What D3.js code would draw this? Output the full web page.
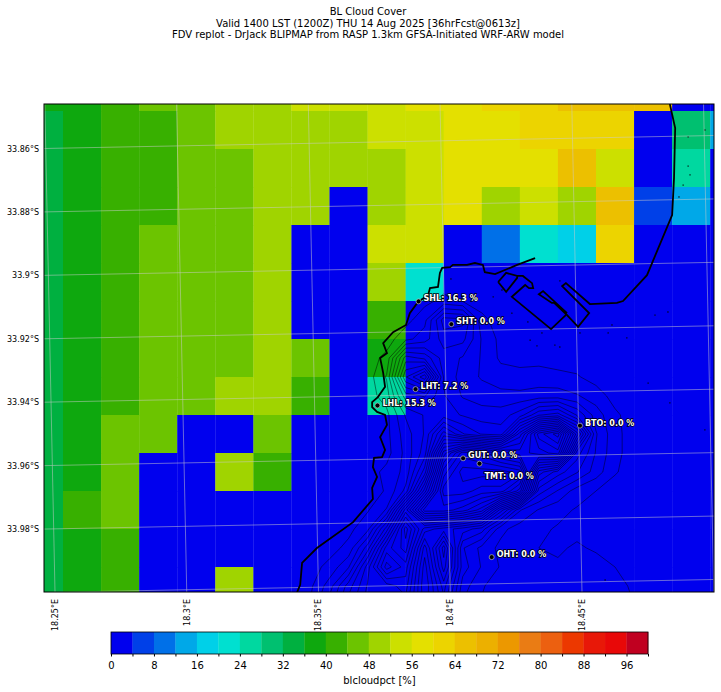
<!DOCTYPE html>
<html>
<head>
<meta charset="utf-8">
<script src="https://d3js.org/d3.v7.min.js"></script>
<style>
  body { margin: 0; background: #fff; }
  text { font-family: "DejaVu Sans", sans-serif; fill: #000; }
</style>
</head>
<body>
<svg id="chart" width="721" height="692"></svg>
<script>
var titleLines = [
  "BL Cloud Cover",
  "Valid 1400 LST (1200Z) THU 14 Aug 2025 [36hrFcst@0613z]",
  "FDV replot - DrJack BLIPMAP from RASP 1.3km GFSA-Initiated WRF-ARW model"
];

// colour bar bands, every 4 %
var levels = d3.range(0, 101, 4);
var bandColors = [
  "#0000ee", "#0040e8", "#0070e8", "#00a8e8", "#00d0e8", "#00e0d0", "#00d8a0",
  "#00c070", "#00b040", "#0ea80e", "#38b000", "#6cc400", "#a0d400", "#cce000",
  "#e4e000", "#ecd400", "#ecc000", "#ecb000", "#ec9800", "#ea7c14", "#ec6010",
  "#ec3800", "#e81808", "#e80808", "#c00020"
];

// blcloudpct per model cell, first row is the partial one along the top edge
var cloudRows = [
  [38,38,42,46,46,50,50,54,54,54,58,58,62,62,66,66,66,0,0],
  [34,38,42,42,46,50,50,50,50,54,54,58,58,62,62,62,0,30,14],
  [34,38,42,42,46,46,50,50,50,50,54,58,58,58,66,54,0,26,0],
  [34,38,42,42,46,46,50,50,0,50,54,58,50,54,50,66,6,14,0],
  [34,38,42,46,46,46,50,0,0,54,54,0,10,22,18,62,0,0,0],
  [34,38,42,46,46,46,50,0,0,50,22,0,0,0,0,0,0,0,0],
  [34,38,42,46,46,46,50,0,0,42,0,0,0,0,0,0,0,0,0],
  [34,38,42,46,46,46,50,46,0,38,0,0,0,0,0,0,0,0,0],
  [34,38,42,46,46,50,50,42,0,26,0,0,0,0,0,0,0,0,0],
  [34,38,46,46,0,0,46,0,0,0,0,0,0,0,0,0,0,0,0],
  [34,38,46,0,0,50,42,0,0,0,0,0,0,0,0,0,0,0,0],
  [34,42,46,0,0,0,0,0,0,0,0,0,0,0,0,0,0,0,0],
  [34,38,42,0,0,0,0,0,0,0,0,0,0,0,0,0,0,0,0],
  [34,38,42,0,0,50,0,0,0,0,0,0,0,0,0,0,0,0,0]
];

var lonTicks = [18.25, 18.3, 18.35, 18.4, 18.45];
var latTicks = [33.86, 33.88, 33.9, 33.92, 33.94, 33.96, 33.98];
var lonLines = [18.25, 18.3, 18.35, 18.4, 18.45, 18.5];
var latLines = [33.86, 33.88, 33.9, 33.92, 33.94, 33.96, 33.98, 34.0];

// coast and harbour in model grid units (column, row)
var coastWest = [
  [12.4,3.87],[11.93,4.05],[11.35,4.29],[11.08,4.24],[11.03,4.05],[10.82,4.0],[10.61,4.05],
  [10.24,4.05],[10.17,4.11],[9.96,4.13],[9.9,4.26],[9.85,4.63],[9.64,4.66],[9.59,4.84],
  [9.32,5.03],[9.11,5.32],[9.01,5.63],[8.67,5.82],[8.41,6.11],[8.51,6.37],[8.33,6.5],
  [8.41,6.89],[8.46,7.26],[8.27,7.53],[8.12,7.66],[8.12,7.79],[8.25,7.92],[8.46,8.0],
  [8.51,8.26],[8.33,8.58],[8.46,8.92],[8.38,9.11],[8.17,9.13],[8.14,9.37],[8.25,9.63],
  [8.12,9.92],[8.14,10.21],[7.62,10.82],[6.67,11.5],[6.28,11.89],[6.23,12.47],[6.15,12.66]
];
var coastEast = [
  [15.94,-0.18],[16.08,0.45],[16.05,1.76],[16.0,2.74],[15.34,4.32],[14.71,5.0],[14.55,5.05],
  [13.84,5.08],[13.21,4.53],[13.11,4.61],[13.82,5.32],[13.53,5.68],[13.24,5.37]
];
var harbourHook = [
  [11.93,4.34],[12.08,4.34],[12.32,4.53],[12.35,4.66],[12.24,4.66],[12.14,4.58],[11.79,4.89],
  [12.82,5.74],[13.24,5.34]
];
var harbourBasin = [[11.43,4.5],[11.64,4.26],[11.93,4.34],[11.93,4.39],[11.64,4.76],[11.43,4.5]];
var harbourInner = [[13.24,5.32],[12.61,4.74],[12.5,4.82],[12.84,5.05],[12.9,5.05],[13.24,5.37]];

// small specks of terrain contour, grid units
var specks = [
  [16.42,0.68],[16.86,0.5],[16.42,1.45],[16.47,1.68],[16.29,1.95],[16.18,2.26],[13.05,4.47],
  [11.79,5.32],[12.21,5.55],[11.53,4.71],[11.3,4.89],[15.55,5.37],[15.89,5.29],[12.58,5.84],
  [12.92,6.16],[13.05,6.21],[14.42,5.63],[14.32,5.84],[14.81,5.97],[13.58,5.84],[12.27,6.03],
  [12.45,6.18],[15.37,7.16],[15.94,7.68],[16.86,8.39],[14.24,12.34],[10.19,4.42]
];

// terrain height in metres, half cell steps, starts at column 6 row 4.5
var terrainStart = [6, 4.5];
var terrainStep = 0.5;
var terrainRows = [
  [0,0,0,0,0,0,0,0,0,0,0,0,0,0,0,0,0,0,0,0],
  [0,0,0,0,0,0,0,10,40,20,0,0,0,0,0,0,0,0,0,0],
  [0,0,0,0,0,0,5,60,250,240,40,0,0,0,0,0,0,0,0,0],
  [0,0,0,0,0,0,60,100,200,190,70,10,0,0,0,0,0,0,0,0],
  [0,0,0,0,0,40,300,260,150,120,70,15,10,10,0,0,0,0,0,0],
  [0,0,0,0,0,80,420,560,170,100,70,50,40,45,40,30,5,0,0,0],
  [0,0,0,0,0,50,250,280,180,120,100,90,90,100,100,80,50,5,0,0],
  [0,0,0,0,0,10,130,180,200,170,150,150,200,320,350,220,100,35,0,0],
  [0,0,0,0,0,10,100,180,400,280,220,200,500,800,900,500,130,40,0,0],
  [0,0,0,0,0,5,90,200,650,850,800,700,650,700,750,250,120,40,0,0],
  [0,0,0,0,0,40,90,300,800,950,950,950,900,350,250,180,100,30,0,0],
  [0,0,0,0,0,30,140,500,900,900,850,850,700,200,120,50,25,0,0,0],
  [0,0,0,0,20,80,450,800,800,750,650,350,130,70,40,20,5,0,0,0],
  [0,0,0,10,60,300,650,400,350,300,250,90,50,35,20,15,10,0,0,0],
  [0,0,5,40,200,500,600,250,550,180,110,60,35,25,20,30,20,10,0,0],
  [0,5,40,120,350,600,500,200,500,200,120,70,30,25,30,40,40,25,5,0],
  [0,15,100,250,380,400,450,180,400,150,80,50,30,30,40,50,45,35,20,5],
  [0,30,150,300,400,420,400,200,350,120,70,50,35,35,40,50,45,35,25,10]
];
var terrainLevels = d3.range(25, 1000, 50);

var stations = [
  {name: "SHL", value: 16.3, col: 9.34, row: 5.01, dx: 5, dy: -3},
  {name: "SHT", value: 0.0, col: 10.2, row: 5.61, dx: 5, dy: -3},
  {name: "LHT", value: 7.2, col: 9.26, row: 7.32, dx: 5, dy: -3},
  {name: "LHL", value: 15.3, col: 8.26, row: 7.75, dx: 5, dy: -3},
  {name: "BTO", value: 0.0, col: 13.58, row: 8.28, dx: 5, dy: -3},
  {name: "GUT", value: 0.0, col: 10.51, row: 9.14, dx: 5, dy: -3},
  {name: "TMT", value: 0.0, col: 10.94, row: 9.28, dx: 5, dy: 12},
  {name: "OHT", value: 0.0, col: 11.26, row: 11.74, dx: 5, dy: -3}
];

var svg = d3.select("#chart");
var left = 44, right = 714, top_ = 104, bottom = 592;

// model grid scales
var gridX = d3.scaleLinear().domain([0, 17]).range([63, 710.2]);
var gridY = d3.scaleLinear().domain([0, 12]).range([111, 567]);

var color = d3.scaleThreshold().domain(levels.slice(1, -1)).range(bandColors);

// lon/lat graticule is slightly sheared against the grid
var lonX = d3.scaleLinear().domain([18.25, 18.5]).range([55, 713.75]);
var latY = d3.scaleLinear().domain([33.86, 34.0]).range([148.5, 592.5]);
var shearX = 0.0209, shearY = -0.0194;
function project(lon, lat) {
  var x = lonX(lon), y = latY(lat);
  for (var i = 0; i < 3; i++) {
    y = latY(lat) + shearY * (x - left);
    x = lonX(lon) + shearX * (y - bottom);
  }
  return [x, y];
}

// title
svg.append("g").selectAll("text").data(titleLines).join("text")
  .attr("x", 368)
  .attr("y", (d, i) => 15 + i * 11.5)
  .attr("text-anchor", "middle")
  .attr("font-size", "10px")
  .text(d => d);

svg.append("clipPath").attr("id", "mapClip").append("rect")
  .attr("x", left).attr("y", top_)
  .attr("width", right - left).attr("height", bottom - top_);

var map = svg.append("g").attr("clip-path", "url(#mapClip)");

// cloud cells, index 0 in each list sits one cell left of / above grid zero
cloudRows.forEach((rowValues, r) => {
  map.append("g").selectAll("rect").data(rowValues).join("rect")
    .attr("x", (d, c) => gridX(c - 1))
    .attr("y", gridY(r - 1))
    .attr("width", (d, c) => gridX(c) - gridX(c - 1) + 0.3)
    .attr("height", gridY(r) - gridY(r - 1) + 0.3)
    .attr("fill", d => color(d));
});

// terrain contours
var terrainH = terrainRows.length, terrainW = terrainRows[0].length;
var terrainPath = d3.geoPath(d3.geoTransform({
  point: function (x, y) {
    this.stream.point(
      gridX(terrainStart[0] + (x - 0.5) * terrainStep),
      gridY(terrainStart[1] + (y - 0.5) * terrainStep)
    );
  }
}));
var terrainContours = d3.contours().size([terrainW, terrainH]).smooth(true)
  .thresholds(terrainLevels)(terrainRows.flat());
map.append("g").selectAll("path").data(terrainContours).join("path")
  .attr("d", terrainPath)
  .attr("fill", "none")
  .attr("stroke", "#000")
  .attr("stroke-opacity", 0.7)
  .attr("stroke-width", 0.65);

map.append("g").selectAll("circle").data(specks).join("circle")
  .attr("cx", d => gridX(d[0]))
  .attr("cy", d => gridY(d[1]))
  .attr("r", 0.9)
  .attr("fill", "#000")
  .attr("fill-opacity", 0.6);

// graticule
var graticule = d3.line();
lonLines.forEach(lon => {
  map.append("path")
    .attr("d", graticule(d3.range(33.8, 34.04, 0.04).map(lat => project(lon, lat))))
    .attr("fill", "none").attr("stroke", "#ccc").attr("stroke-opacity", 0.5).attr("stroke-width", 1);
});
latLines.forEach(lat => {
  map.append("path")
    .attr("d", graticule(d3.range(18.2, 18.6, 0.05).map(lon => project(lon, lat))))
    .attr("fill", "none").attr("stroke", "#ccc").attr("stroke-opacity", 0.5).attr("stroke-width", 1);
});

// coastline
var coastLine = d3.line().x(d => gridX(d[0])).y(d => gridY(d[1]));
[coastWest, coastEast, harbourHook, harbourBasin, harbourInner].forEach(part => {
  map.append("path")
    .attr("d", coastLine(part))
    .attr("fill", "none")
    .attr("stroke", "#000")
    .attr("stroke-width", 1.8);
});

// stations
var stationG = svg.append("g").selectAll("g").data(stations).join("g")
  .attr("transform", d => `translate(${gridX(d.col)},${gridY(d.row)})`);
stationG.append("circle")
  .attr("r", 2.5)
  .attr("fill", "#000")
  .attr("stroke", "#bbb")
  .attr("stroke-width", 0.7);
stationG.append("text")
  .attr("x", d => d.dx)
  .attr("y", d => d.dy + 3)
  .attr("font-size", "8px")
  .attr("font-weight", "bold")
  .style("fill", "#fff")
  .style("stroke", "#000")
  .style("stroke-width", "1.5px")
  .style("paint-order", "stroke")
  .text(d => `${d.name}: ${d.value.toFixed(1)} %`);

// frame
svg.append("rect")
  .attr("x", left).attr("y", top_)
  .attr("width", right - left).attr("height", bottom - top_)
  .attr("fill", "none").attr("stroke", "#000").attr("stroke-width", 1);

// lat and lon labels
svg.append("g").selectAll("text").data(latTicks).join("text")
  .attr("x", 39)
  .attr("y", d => latY(d) + 3)
  .attr("text-anchor", "end")
  .attr("font-size", "8px")
  .text(d => d + "°S");
svg.append("g").selectAll("text").data(lonTicks).join("text")
  .attr("transform", d => `translate(${project(d, 34.0)[0] + 3},599) rotate(-90)`)
  .attr("text-anchor", "end")
  .attr("font-size", "8px")
  .text(d => d + "°E");

// colour bar
var barX = d3.scaleLinear().domain([0, 100]).range([111, 648]);
var barTop = 632, barBottom = 654;
svg.append("g").selectAll("rect").data(bandColors).join("rect")
  .attr("x", (d, i) => barX(levels[i]))
  .attr("y", barTop)
  .attr("width", (d, i) => barX(levels[i + 1]) - barX(levels[i]) + 0.3)
  .attr("height", barBottom - barTop)
  .attr("fill", d => d);
svg.append("rect")
  .attr("x", barX(0)).attr("y", barTop)
  .attr("width", barX(100) - barX(0)).attr("height", barBottom - barTop)
  .attr("fill", "none").attr("stroke", "#000").attr("stroke-width", 0.8);

var barAxis = d3.axisBottom(barX)
  .tickValues(levels)
  .tickSize(2.5)
  .tickPadding(5)
  .tickFormat(d => (d % 8 === 0 && d < 100) ? d : "");
var barAxisG = svg.append("g")
  .attr("transform", `translate(0,${barBottom})`)
  .call(barAxis);
barAxisG.select(".domain").remove();
barAxisG.selectAll("text")
  .attr("font-size", "10px")
  .style("font-family", '"DejaVu Sans", sans-serif');

svg.append("text")
  .attr("x", barX(50))
  .attr("y", 684)
  .attr("text-anchor", "middle")
  .attr("font-size", "10px")
  .text("blcloudpct [%]");
</script>
</body>
</html>
